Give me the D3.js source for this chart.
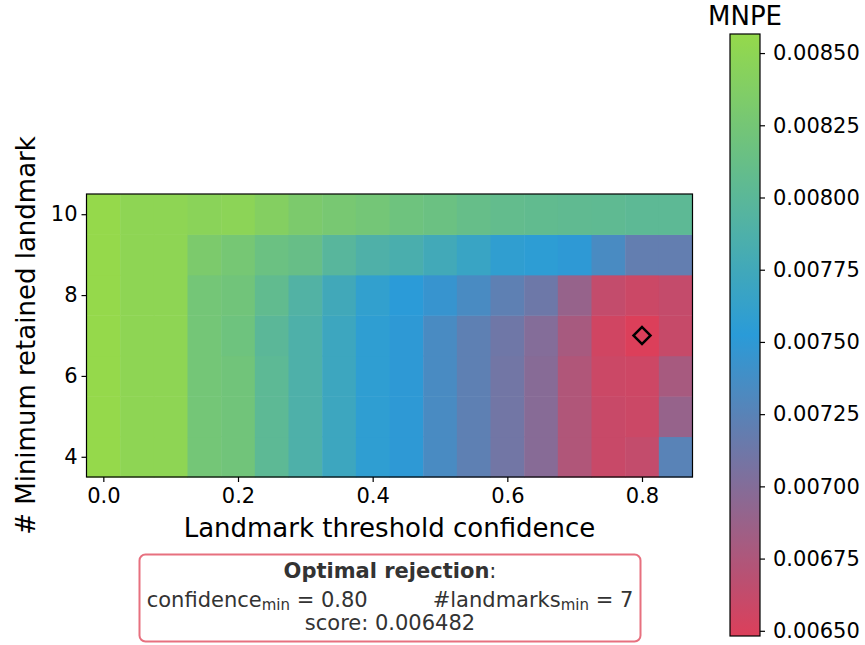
<!DOCTYPE html>
<html>
<head>
<meta charset="utf-8">
<script src="https://cdn.jsdelivr.net/npm/d3@7"></script>
<style>
body { margin: 0; background: #fff; }
text { font-family: "DejaVu Sans", sans-serif; }
</style>
</head>
<body>
<div id="chart-area"></div>
<script>
// Landmark threshold confidence (columns) and min retained landmarks (rows)
var confidences = [0.00, 0.05, 0.10, 0.15, 0.20, 0.25, 0.30, 0.35, 0.40,
                   0.45, 0.50, 0.55, 0.60, 0.65, 0.70, 0.75, 0.80, 0.85];
var minLandmarks = [4, 5, 6, 7, 8, 9, 10];

// MNPE per row
var mnpe4  = [0.008566, 0.00850, 0.00850, 0.00824, 0.00822, 0.00802, 0.00787, 0.00771, 0.00757,
              0.00750, 0.00734, 0.00722, 0.00710, 0.00698, 0.00674, 0.00660, 0.00663, 0.00725];
var mnpe5  = [0.008566, 0.00850, 0.00850, 0.00824, 0.00822, 0.00802, 0.00787, 0.00771, 0.00757,
              0.00750, 0.00734, 0.00722, 0.00710, 0.00698, 0.00674, 0.00660, 0.00658, 0.00689];
var mnpe6  = [0.008566, 0.00850, 0.00850, 0.00824, 0.00822, 0.00802, 0.00787, 0.00771, 0.00757,
              0.00750, 0.00734, 0.00722, 0.00710, 0.00698, 0.00674, 0.00658, 0.00657, 0.00679];
var mnpe7  = [0.008566, 0.00850, 0.00850, 0.00824, 0.00819, 0.00800, 0.00787, 0.00771, 0.00757,
              0.00750, 0.00734, 0.00722, 0.00712, 0.00700, 0.00679, 0.00655, 0.006482, 0.00661];
var mnpe8  = [0.008566, 0.00850, 0.00850, 0.00824, 0.00822, 0.00806, 0.00791, 0.00775, 0.00760,
              0.00752, 0.00745, 0.00734, 0.00722, 0.00713, 0.00689, 0.00663, 0.00658, 0.00662];
var mnpe9  = [0.008566, 0.00850, 0.00850, 0.00832, 0.00826, 0.00816, 0.00812, 0.00797, 0.00788,
              0.00784, 0.00776, 0.00767, 0.00758, 0.00755, 0.00750, 0.00734, 0.00719, 0.00719];
var mnpe10 = [0.008566, 0.00850, 0.00850, 0.00846, 0.00848, 0.00840, 0.00832, 0.00828, 0.00824,
              0.00819, 0.00816, 0.00811, 0.00808, 0.00806, 0.00805, 0.00804, 0.00802, 0.00802];
var mnpeRows = [mnpe4, mnpe5, mnpe6, mnpe7, mnpe8, mnpe9, mnpe10];

var xTicks = [0.0, 0.2, 0.4, 0.6, 0.8];
var yTicks = [4, 6, 8, 10];
var cbTicks = [0.0065, 0.00675, 0.0070, 0.00725, 0.0075, 0.00775, 0.0080, 0.00825, 0.0085];

var width = 865, height = 645;

var svg = d3.select("#chart-area").append("svg")
    .attr("width", width)
    .attr("height", height);

svg.append("rect").attr("width", width).attr("height", height).attr("fill", "#fff");

// flatten cells
var cells = [];
mnpeRows.forEach(function(row, i) {
  row.forEach(function(v, j) {
    cells.push({ conf: confidences[j], lm: minLandmarks[i], value: v });
  });
});

var vmin = d3.min(cells, function(d) { return d.value; });
var vmax = d3.max(cells, function(d) { return d.value; });
var best = cells.find(function(d) { return d.value === vmin; });

// red -> blue -> green
var color = d3.scaleLinear()
    .domain([vmin, (vmin + vmax) / 2, vmax])
    .range(["#dc3f5a", "#2a9bd8", "#95d94b"])
    .interpolate(d3.interpolateRgb);

// Scales
var step = 0.05;
var x = d3.scaleLinear().domain([-0.025, 0.875]).range([86.5, 692.5]);
var y = d3.scaleLinear().domain([3.5, 10.5]).range([477, 194]);

var g = svg.append("g");

g.selectAll("rect.cell")
  .data(cells)
  .enter().append("rect")
    .attr("class", "cell")
    .attr("x", function(d) { return x(d.conf - step / 2); })
    .attr("y", function(d) { return y(d.lm + 0.5); })
    .attr("width", function(d) { return x(d.conf + step / 2) - x(d.conf - step / 2) + 0.5; })
    .attr("height", function(d) { return y(d.lm - 0.5) - y(d.lm + 0.5) + 0.5; })
    .attr("fill", function(d) { return color(d.value); });

// frame
g.append("rect")
    .attr("x", x(-0.025))
    .attr("y", y(10.5))
    .attr("width", x(0.875) - x(-0.025))
    .attr("height", y(3.5) - y(10.5))
    .attr("fill", "none")
    .attr("stroke", "#000")
    .attr("stroke-width", 1.2);

// optimum marker
g.append("path")
    .attr("d", d3.symbol().type(d3.symbolSquare).size(144)())
    .attr("transform", "translate(" + x(best.conf) + "," + y(best.lm) + ") rotate(45)")
    .attr("fill", "none")
    .attr("stroke", "#000")
    .attr("stroke-width", 2.5);

// Axes
var xAxis = g.append("g")
    .attr("transform", "translate(0," + y(3.5) + ")")
    .call(d3.axisBottom(x).tickValues(xTicks).tickFormat(d3.format(".1f"))
          .tickSize(5).tickSizeOuter(0).tickPadding(6));
var yAxis = g.append("g")
    .attr("transform", "translate(" + x(-0.025) + ",0)")
    .call(d3.axisLeft(y).tickValues(yTicks).tickFormat(d3.format("d"))
          .tickSize(5).tickSizeOuter(0).tickPadding(4));

[xAxis, yAxis].forEach(function(a) {
  a.select(".domain").remove();
  a.selectAll("text").attr("font-size", "21px").attr("fill", "#000")
    .attr("font-family", "DejaVu Sans, sans-serif");
  a.selectAll("line").attr("stroke", "#000").attr("stroke-width", 1.2);
});

// Axis titles
svg.append("text")
    .attr("x", (x(-0.025) + x(0.875)) / 2)
    .attr("y", 537)
    .attr("text-anchor", "middle")
    .attr("font-size", "26px")
    .text("Landmark threshold confidence");

svg.append("text")
    .attr("transform", "rotate(-90)")
    .attr("x", -(y(3.5) + y(10.5)) / 2)
    .attr("y", 35)
    .attr("text-anchor", "middle")
    .attr("font-size", "26px")
    .text("# Minimum retained landmark");

// Colorbar
var cbX = 730, cbW = 30, cbTop = 34, cbBottom = 636;
var cy = d3.scaleLinear().domain([vmin, vmax]).range([cbBottom, cbTop]);

var grad = svg.append("defs").append("linearGradient")
    .attr("id", "cbGrad")
    .attr("x1", 0).attr("y1", 1).attr("x2", 0).attr("y2", 0);
grad.selectAll("stop")
  .data(d3.range(0, 1.0001, 0.05))
  .enter().append("stop")
    .attr("offset", function(t) { return t; })
    .attr("stop-color", function(t) { return color(vmin + t * (vmax - vmin)); });

svg.append("rect")
    .attr("x", cbX).attr("y", cbTop)
    .attr("width", cbW).attr("height", cbBottom - cbTop)
    .attr("fill", "url(#cbGrad)")
    .attr("stroke", "#000")
    .attr("stroke-width", 1.2);

var cbAxis = svg.append("g")
    .attr("transform", "translate(" + (cbX + cbW) + ",0)")
    .call(d3.axisRight(cy).tickValues(cbTicks).tickFormat(d3.format(".5f"))
          .tickSize(5).tickSizeOuter(0).tickPadding(8));
cbAxis.select(".domain").remove();
cbAxis.selectAll("text").attr("font-size", "21px").attr("fill", "#000")
    .attr("font-family", "DejaVu Sans, sans-serif");
cbAxis.selectAll("line").attr("stroke", "#000").attr("stroke-width", 1.2);

svg.append("text")
    .attr("x", cbX + cbW / 2)
    .attr("y", 25)
    .attr("text-anchor", "middle")
    .attr("font-size", "26px")
    .text("MNPE");

// Annotation box
var box = svg.append("g");
box.append("rect")
    .attr("x", 139.5).attr("y", 554.5)
    .attr("width", 501).attr("height", 87)
    .attr("rx", 6).attr("ry", 6)
    .attr("fill", "#fff")
    .attr("stroke", "#e7707f")
    .attr("stroke-width", 2);

var boxCx = 390;
var t1 = box.append("text")
    .attr("x", boxCx).attr("y", 578)
    .attr("text-anchor", "middle")
    .attr("font-size", "21px")
    .attr("fill", "#333");
t1.append("tspan").attr("font-weight", "bold").text("Optimal rejection");
t1.append("tspan").text(":");

var t2 = box.append("text")
    .attr("x", boxCx).attr("y", 606.5)
    .attr("text-anchor", "middle")
    .attr("font-size", "21px")
    .attr("fill", "#333");
t2.append("tspan").text("confidence");
t2.append("tspan").attr("font-size", "15px").attr("dy", 3).text("min");
t2.append("tspan").attr("dy", -3).text(" = " + d3.format(".2f")(best.conf));
t2.append("tspan").attr("dx", 65).text("#landmarks");
t2.append("tspan").attr("font-size", "15px").attr("dy", 3).text("min");
t2.append("tspan").attr("dy", -3).text(" = " + best.lm);

box.append("text")
    .attr("x", boxCx).attr("y", 630)
    .attr("text-anchor", "middle")
    .attr("font-size", "21px")
    .attr("fill", "#333")
    .text("score: " + d3.format(".6f")(vmin));
</script>
</body>
</html>
